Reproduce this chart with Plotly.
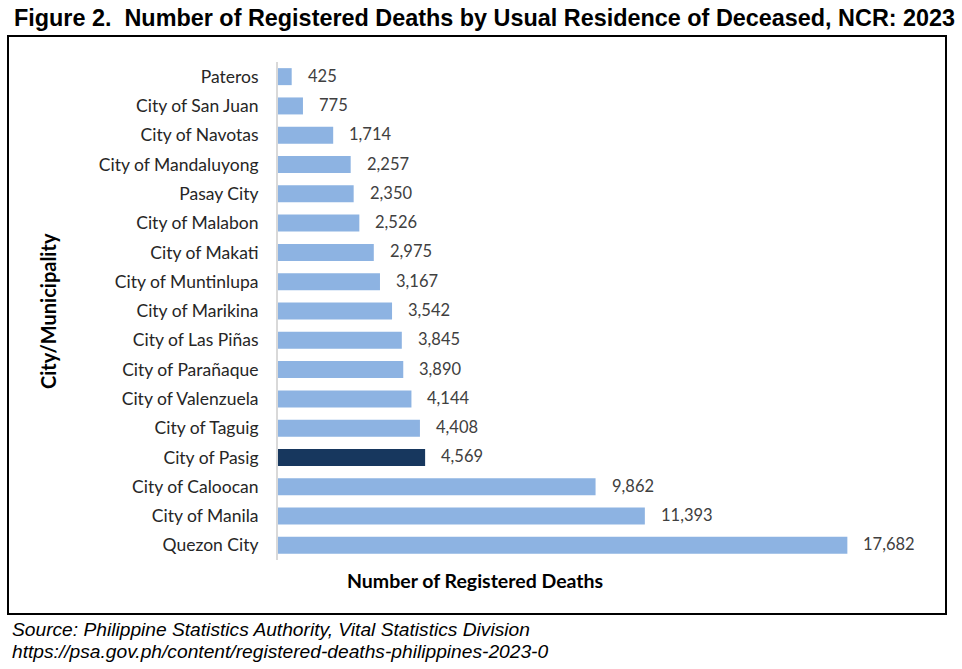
import plotly.graph_objects as go

cities = ["Pateros", "City of San Juan", "City of Navotas", "City of Mandaluyong", "Pasay City",
          "City of Malabon", "City of Makati", "City of Muntinlupa", "City of Marikina",
          "City of Las Piñas", "City of Parañaque", "City of Valenzuela", "City of Taguig",
          "City of Pasig", "City of Caloocan", "City of Manila", "Quezon City"]
deaths = [425, 775, 1714, 2257, 2350, 2526, 2975, 3167, 3542, 3845, 3890, 4144, 4408,
          4569, 9862, 11393, 17682]
highlight = "City of Pasig"

LIGHT = "#8DB3E2"
DARK = "#17375E"
colors = [DARK if c == highlight else LIGHT for c in cities]

W, H = 962, 669
L, R, T, B = 278, 922, 62, 560

def px(x):
    return (x - L) / (R - L)

def py(y):
    return (B - y) / (B - T)

FONT = "Lato, Open Sans, sans-serif"

fig = go.Figure()
fig.add_trace(go.Bar(
    y=cities, x=deaths, orientation="h",
    marker=dict(color=colors, line=dict(width=0)),
    width=0.58, hoverinfo="x+y",
))

annotations = []
for c, v in zip(cities, deaths):
    annotations.append(dict(x=v, y=c, xref="x", yref="y", text=f"{v:,}", showarrow=False,
                            xanchor="left", xshift=14, yshift=1,
                            font=dict(family=FONT, size=16.5, color="#404040")))

annotations += [
    dict(x=px(12), y=py(18), xref="paper", yref="paper", xanchor="left", yanchor="middle",
         text="<b>Figure 2.  Number of Registered Deaths by Usual Residence of Deceased, NCR: 2023</b>",
         showarrow=False, font=dict(family="Liberation Sans, Arial", size=23.4, color="#000")),
    dict(x=px(10), y=py(629), xref="paper", yref="paper", xanchor="left", yanchor="middle",
         text="<i>Source: Philippine Statistics Authority, Vital Statistics Division</i>",
         showarrow=False, font=dict(family="Liberation Sans, Arial", size=19.2, color="#000")),
    dict(x=px(10), y=py(651), xref="paper", yref="paper", xanchor="left", yanchor="middle",
         text="<i>https://psa.gov.ph/content/registered-deaths-philippines-2023-0</i>",
         showarrow=False, font=dict(family="Liberation Sans, Arial", size=19.2, color="#000")),
    dict(x=px(475), y=py(580), xref="paper", yref="paper", xanchor="center", yanchor="middle",
         text="<b>Number of Registered Deaths</b>", showarrow=False,
         font=dict(family=FONT, size=19.5, color="#000")),
    dict(x=px(48), y=py(311), xref="paper", yref="paper", xanchor="center", yanchor="middle",
         text="<b>City/Municipality</b>", showarrow=False, textangle=-90,
         font=dict(family=FONT, size=20, color="#000")),
]

fig.update_layout(
    width=W, height=H,
    margin=dict(l=L, r=W - R, t=T, b=H - B, pad=0),
    paper_bgcolor="white", plot_bgcolor="white",
    showlegend=False,
    bargap=0.42,
    xaxis=dict(range=[0, 20000], showticklabels=False, showgrid=False, zeroline=False,
               showline=False, ticks=""),
    yaxis=dict(autorange="reversed", showgrid=False, zeroline=False, showline=True,
               linecolor="#D9D9D9", linewidth=2, ticks="outside", ticklen=14,
               tickcolor="rgba(0,0,0,0)",
               tickfont=dict(family=FONT, size=17.5, color="#262626")),
    annotations=annotations,
    shapes=[dict(type="rect", xref="paper", yref="paper",
                 x0=px(8), x1=px(946), y0=py(614), y1=py(36),
                 line=dict(color="#000", width=2), fillcolor="rgba(0,0,0,0)", layer="below")],
)

fig.write_html("out.html", config={"displayModeBar": False},
               post_script="document.body.style.margin='0';document.body.style.overflow='hidden';")
